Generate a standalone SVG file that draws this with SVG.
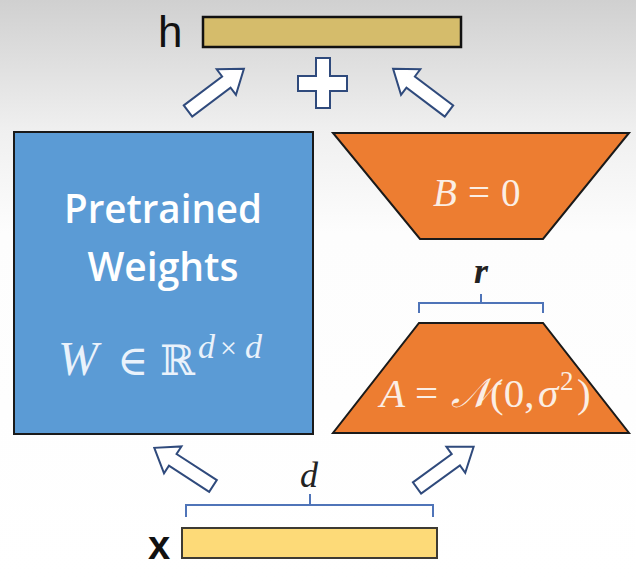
<svg xmlns="http://www.w3.org/2000/svg" width="636" height="582" viewBox="0 0 636 582">
<defs>
<linearGradient id="bg" x1="0" y1="0" x2="0" y2="1">
<stop offset="0" stop-color="#d0d0d0"/>
<stop offset="0.22" stop-color="#efefef"/>
<stop offset="0.4" stop-color="#fdfdfd"/>
<stop offset="1" stop-color="#ffffff"/>
</linearGradient>
<polygon id="arr" points="0,-7 48,-7 48,-16 70,0 48,16 48,7 0,7"/>
</defs>
<style>
.arrow{fill:#ffffff;stroke:#2f4a7c;stroke-width:2;stroke-linejoin:miter}
.brace{fill:none;stroke:#4f74b8;stroke-width:2}
.sans{font-family:"Liberation Sans","DejaVu Sans",sans-serif}
.label{font-family:"Open Sans","Liberation Sans",sans-serif;font-weight:600;fill:#ffffff;font-size:39px;text-anchor:middle}
.math{font-family:"Liberation Serif","DejaVu Serif",serif}
.it{font-style:italic}
</style>
<rect x="0" y="0" width="636" height="582" fill="url(#bg)"/>

<g id="h-vector">
<text x="158" y="47" class="sans" font-size="44" fill="#111">h</text>
<rect x="203" y="17" width="258" height="30" fill="#d5bc6b" stroke="#111" stroke-width="2.5"/>
</g>

<g id="plus">
<path d="M316,58 H330 V76 H347 V91 H330 V108 H316 V91 H298 V76 H316 Z" fill="#ffffff" stroke="#2f4a7c" stroke-width="2"/>
</g>

<g id="pretrained-weights">
<rect x="14" y="132" width="299" height="302" fill="#5b9bd5" stroke="#1a1a1a" stroke-width="2"/>
<text x="163" y="223" class="label" textLength="198" lengthAdjust="spacingAndGlyphs">Pretrained</text>
<text x="163" y="281" class="label">Weights</text>
<text y="375" class="math" fill="#eaf2fb" font-size="48"><tspan x="58" class="it">W</tspan><tspan x="117" font-size="42">∈</tspan><tspan x="160" font-family="DejaVu Serif,serif" font-size="42">ℝ</tspan><tspan x="198" y="358" class="it" font-size="34">d</tspan><tspan x="220" y="358" font-size="30">×</tspan><tspan x="245" y="358" class="it" font-size="34">d</tspan></text>
</g>

<g id="matrix-B">
<polygon points="333,133 629,133 543,239 420,239" fill="#ed7d31" stroke="#1a1a1a" stroke-width="2"/>
<text y="206" class="math" fill="#fbeee4" font-size="39"><tspan x="433" class="it">B</tspan><tspan x="468">=</tspan><tspan x="501">0</tspan></text>
</g>

<g id="matrix-A">
<polygon points="419,323 543,323 629,433 333,433" fill="#ed7d31" stroke="#1a1a1a" stroke-width="2"/>
<text y="407" class="math" fill="#fbeee4" font-size="41"><tspan x="380" class="it">A</tspan><tspan x="415">=</tspan><tspan x="451" class="it" font-family="DejaVu Serif,serif">𝒩</tspan><tspan x="490">(0,</tspan><tspan x="538" class="it">σ</tspan><tspan x="560" y="390" font-size="27">2</tspan><tspan x="577" y="407">)</tspan></text>
</g>

<g id="x-vector">
<text x="148" y="559" class="sans" font-size="40" font-weight="bold" fill="#111">x</text>
<rect x="182" y="528" width="255" height="30" fill="#fdda78" stroke="#3d3a33" stroke-width="2"/>
</g>

<g id="dims">
<text x="481" y="283" class="math it" font-size="36" font-weight="bold" text-anchor="middle" fill="#222">r</text>
<path class="brace" d="M419,313 V303 H543 V313 M481,303 V294"/>
<text x="309" y="487" class="math it" font-size="36" text-anchor="middle" fill="#222">d</text>
<path class="brace" d="M186,517 V505 H433 V517 M310,505 V494"/>
</g>

<g id="connectors">
<use href="#arr" class="arrow" transform="translate(188,111) rotate(-37)"/>
<use href="#arr" class="arrow" transform="translate(449,111) rotate(-143)"/>
<use href="#arr" class="arrow" transform="translate(213,486) rotate(-147)"/>
<use href="#arr" class="arrow" transform="translate(417,488) rotate(-36)"/>
</g>
</svg>
